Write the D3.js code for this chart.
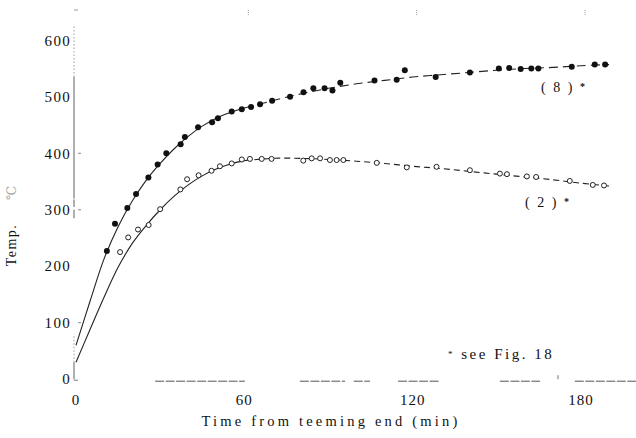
<!DOCTYPE html>
<html>
<head>
<meta charset="utf-8">
<script src="https://cdn.jsdelivr.net/npm/d3@7"></script>
<style>
  html, body { margin: 0; padding: 0; background: #fff; }
  svg { display: block; }
  text { font-family: "Liberation Serif", "DejaVu Serif", serif; fill: #111; }
</style>
</head>
<body>
<svg id="chart" width="636" height="438" font-family="Liberation Serif, DejaVu Serif, serif"></svg>
<script>
// Tick values
const timeTicks = [0, 60, 120, 180];
const tempTicks = [0, 100, 200, 300, 400, 500, 600];

// Measured temperatures, case (8): [time min, temp]
const case8Points = [
  [11.0, 227], [13.9, 275], [18.3, 303], [21.4, 328], [25.8, 357], [29.1, 380],
  [32.2, 400], [37.3, 416], [38.8, 429], [43.5, 446], [48.5, 455], [50.6, 462],
  [55.5, 474], [59.1, 478], [62.4, 482], [65.6, 487], [69.9, 493], [76.3, 500],
  [81.1, 508], [84.6, 515], [88.6, 515], [91.4, 511], [94.2, 525], [106.4, 529],
  [114.3, 530], [117.2, 547], [128.2, 535], [140.4, 543], [150.7, 550], [154.4, 551],
  [158.5, 549], [162.3, 550], [164.8, 550], [176.7, 553], [184.9, 557], [188.6, 557]
];

// Measured temperatures, case (2)
const case2Points = [
  [15.7, 225], [18.6, 251], [22.1, 265], [25.9, 273], [30.0, 301], [37.2, 336],
  [39.6, 354], [43.7, 361], [48.3, 369], [51.3, 377], [55.5, 382], [59.1, 389],
  [62.0, 390], [66.2, 390], [69.7, 390], [81.0, 387], [84.0, 391], [87.0, 391],
  [90.5, 388], [92.9, 388], [95.3, 388], [107.2, 383], [117.9, 375], [128.5, 376],
  [140.4, 370], [151.1, 364], [153.6, 363], [160.7, 359], [164.0, 358], [176.0, 351],
  [184.2, 344], [188.2, 343]
];

// Fitted curves
const case8Curve = [
  [0, 60], [5, 138], [10, 213], [15, 270], [20, 315], [25, 352], [30, 382], [35, 408],
  [40, 430], [45, 448], [50, 462], [55, 472], [60, 480], [70, 493], [80, 505], [90, 515],
  [100, 523], [110, 529], [120, 535], [130, 539], [140, 543], [150, 547], [160, 550],
  [170, 552], [180, 555], [190, 557]
];
const case2Curve = [
  [0, 30], [5, 88], [10, 145], [15, 198], [20, 240], [25, 272], [30, 300], [35, 324],
  [40, 344], [45, 360], [50, 372], [55, 381], [60, 387], [70, 391], [80, 391], [90, 389],
  [100, 386], [110, 382], [120, 377], [130, 373], [140, 368], [150, 363], [160, 358],
  [170, 353], [180, 347], [190, 342]
];

// Pieces of the printed time axis rule [from, to] (min)
const timeRulePieces = [[28.2, 60.2], [79.8, 95.9], [99, 104.8], [114.8, 129.7], [151.1, 165.4], [177.8, 199.6]];
// Pieces of the printed temperature axis rule [from, to] (deg)
const tempRuleSolid = [[0, 30], [285, 300], [305, 318], [320, 535]];
const tempRuleDotted = [[30, 80], [535, 628]];

const svg = d3.select("#chart");
svg.append("rect").attr("width", 636).attr("height", 438).attr("fill", "#fff");

const x = d3.scaleLinear().domain([0, 180]).range([76, 581]);
const y = d3.scaleLinear().domain([0, 600]).range([379.2, 40.3]);
const axisX = 74;

// Temperature axis rule
const ruleG = svg.append("g").attr("stroke", "#7a7a7a").attr("fill", "none");
tempRuleSolid.forEach(([a, b]) => {
  ruleG.append("line").attr("x1", axisX).attr("x2", axisX)
    .attr("y1", y(a)).attr("y2", y(b)).attr("stroke-width", 1.2);
});
tempRuleDotted.forEach(([a, b]) => {
  ruleG.append("line").attr("x1", axisX).attr("x2", axisX)
    .attr("y1", y(a)).attr("y2", y(b)).attr("stroke-width", 1)
    .attr("stroke-dasharray", "1.5,2").attr("stroke", "#999");
});
// short inner ticks
[100, 300, 400].forEach(v => {
  ruleG.append("line").attr("x1", axisX + 4).attr("x2", axisX + 7)
    .attr("y1", y(v)).attr("y2", y(v)).attr("stroke", "#888");
});

// Time axis rule
const baseY = y(0) + 2;
const timeG = svg.append("g").attr("stroke", "#555").attr("fill", "none");
timeRulePieces.forEach(([a, b]) => {
  timeG.append("line").attr("x1", x(a)).attr("x2", Math.min(x(b), 636))
    .attr("y1", baseY).attr("y2", baseY)
    .attr("stroke-width", 1).attr("stroke-dasharray", "9,1.5");
});
timeG.append("line").attr("x1", 558).attr("x2", 558)
  .attr("y1", baseY - 6).attr("y2", baseY - 2).attr("stroke", "#777");
timeG.append("line").attr("x1", axisX).attr("x2", axisX + 4)
  .attr("y1", baseY - 1).attr("y2", baseY - 1).attr("stroke", "#777");

// faint top ticks
const topG = svg.append("g").attr("stroke", "#999");
timeTicks.forEach(t => {
  if (t === 0) {
    topG.append("line").attr("x1", x(t) - 2).attr("x2", x(t) + 2).attr("y1", 10).attr("y2", 10);
  } else {
    topG.append("line").attr("x1", x(t) + 4).attr("x2", x(t) + 4).attr("y1", 10).attr("y2", 15)
      .attr("stroke-dasharray", "1,1");
  }
});

// Tick labels
svg.append("g").selectAll("text").data(tempTicks).join("text")
  .attr("x", 71).attr("y", d => y(d)).attr("dy", "0.35em")
  .attr("text-anchor", "end").attr("font-size", 15).attr("letter-spacing", 1.3)
  .text(d => d);

svg.append("g").selectAll("text").data(timeTicks).join("text")
  .attr("x", d => x(d)).attr("y", 400).attr("dy", "0.35em")
  .attr("text-anchor", "middle").attr("font-size", 15).attr("letter-spacing", 1)
  .text(d => d);

// Axis titles
svg.append("text").attr("x", 331).attr("y", 426)
  .attr("text-anchor", "middle").attr("font-size", 14.5).attr("letter-spacing", 3.2)
  .text("Time from teeming end (min)");

svg.append("text").attr("transform", "translate(16,245) rotate(-90)")
  .attr("text-anchor", "middle").attr("font-size", 14).attr("letter-spacing", 1.5)
  .text("Temp.");
svg.append("text").attr("transform", "translate(16,193) rotate(-90)")
  .attr("text-anchor", "middle").attr("font-size", 13).style("fill", "#aaa")
  .text("℃");

// Curves: solid in the early part, dashed later
const line = d3.line().x(d => x(d[0])).y(d => y(d[1])).curve(d3.curveCatmullRom);
function drawCurve(data, dash) {
  const early = data.filter(d => d[0] <= 60);
  const late = data.filter(d => d[0] >= 60);
  svg.append("path").datum(early).attr("d", line)
    .attr("fill", "none").attr("stroke", "#222").attr("stroke-width", 1.1);
  svg.append("path").datum(late).attr("d", line)
    .attr("fill", "none").attr("stroke", "#222").attr("stroke-width", 1.1)
    .attr("stroke-dasharray", dash);
}
drawCurve(case8Curve, "9,5");
drawCurve(case2Curve, "6,4");

// Points
svg.append("g").selectAll("circle").data(case8Points).join("circle")
  .attr("cx", d => x(d[0])).attr("cy", d => y(d[1])).attr("r", 3)
  .attr("fill", "#111");

svg.append("g").selectAll("circle").data(case2Points).join("circle")
  .attr("cx", d => x(d[0])).attr("cy", d => y(d[1])).attr("r", 2.5)
  .attr("fill", "#fff").attr("stroke", "#222").attr("stroke-width", 1);

// Series labels
function seriesLabel(lx, ly, txt) {
  svg.append("text").attr("x", lx).attr("y", ly).attr("dy", "0.35em")
    .attr("font-size", 14).attr("letter-spacing", 2).text(txt);
  svg.append("text").attr("x", lx + 39).attr("y", ly - 1).attr("dy", "0.35em")
    .attr("font-size", 10).attr("font-weight", "bold").text("*");
}
seriesLabel(541, 87, "( 8 )");
seriesLabel(525, 202, "( 2 )");

// Footnote
const note = svg.append("text").attr("x", 448).attr("y", 358).attr("dy", "0.35em")
  .attr("font-size", 15).attr("letter-spacing", 2.5);
note.append("tspan").attr("font-size", 9).attr("dy", "-0.1em").text("*");
note.append("tspan").attr("dy", "0.1em").text(" see Fig. 18");
</script>
</body>
</html>
